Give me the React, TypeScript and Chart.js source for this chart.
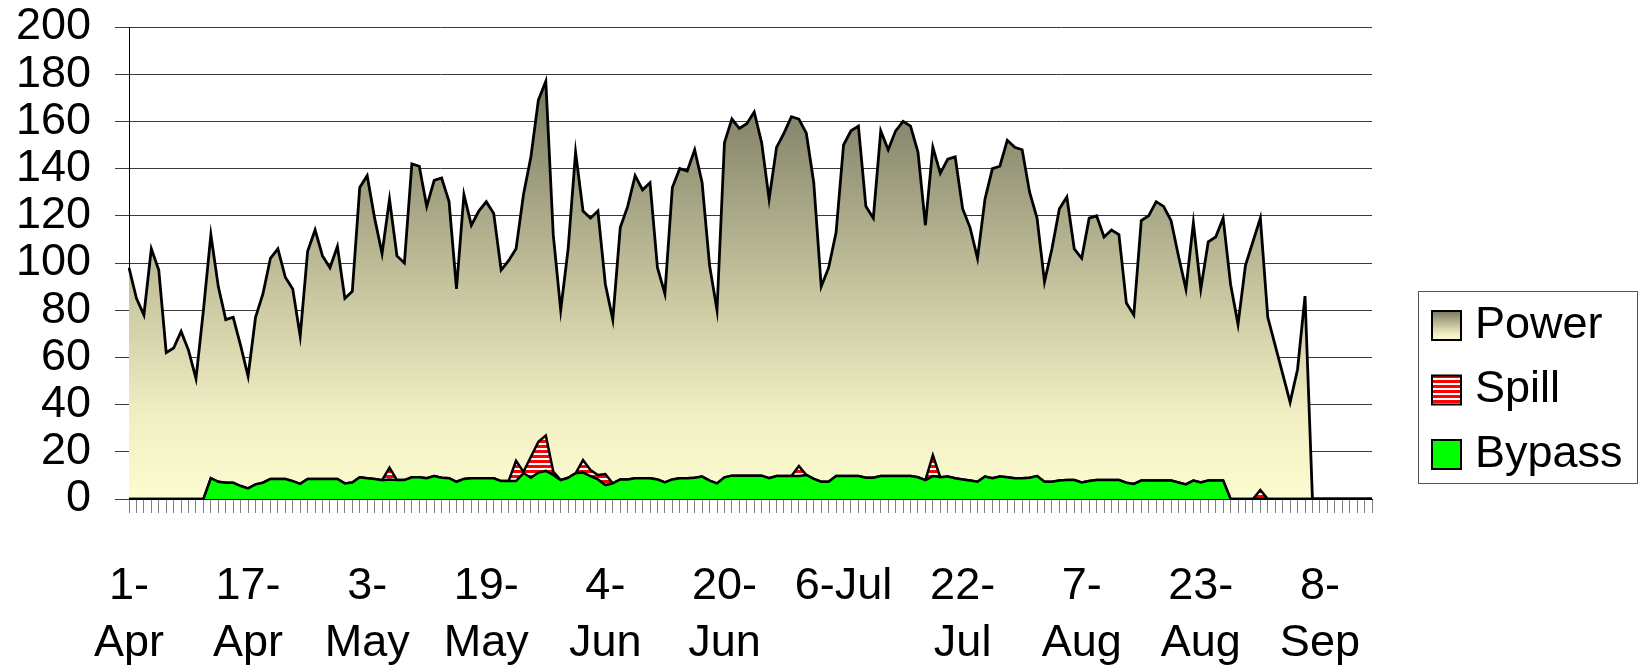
import React, { useEffect, useRef } from "react";
import { Chart, registerables } from "chart.js";

Chart.register(...registerables);

// Daily categories, 1-Apr .. 15-Sep
const categories: string[] = [
  "1-Apr","2-Apr","3-Apr","4-Apr","5-Apr","6-Apr","7-Apr","8-Apr","9-Apr","10-Apr",
  "11-Apr","12-Apr","13-Apr","14-Apr","15-Apr","16-Apr","17-Apr","18-Apr","19-Apr","20-Apr",
  "21-Apr","22-Apr","23-Apr","24-Apr","25-Apr","26-Apr","27-Apr","28-Apr","29-Apr","30-Apr",
  "1-May","2-May","3-May","4-May","5-May","6-May","7-May","8-May","9-May","10-May",
  "11-May","12-May","13-May","14-May","15-May","16-May","17-May","18-May","19-May","20-May",
  "21-May","22-May","23-May","24-May","25-May","26-May","27-May","28-May","29-May","30-May","31-May",
  "1-Jun","2-Jun","3-Jun","4-Jun","5-Jun","6-Jun","7-Jun","8-Jun","9-Jun","10-Jun",
  "11-Jun","12-Jun","13-Jun","14-Jun","15-Jun","16-Jun","17-Jun","18-Jun","19-Jun","20-Jun",
  "21-Jun","22-Jun","23-Jun","24-Jun","25-Jun","26-Jun","27-Jun","28-Jun","29-Jun","30-Jun",
  "1-Jul","2-Jul","3-Jul","4-Jul","5-Jul","6-Jul","7-Jul","8-Jul","9-Jul","10-Jul",
  "11-Jul","12-Jul","13-Jul","14-Jul","15-Jul","16-Jul","17-Jul","18-Jul","19-Jul","20-Jul",
  "21-Jul","22-Jul","23-Jul","24-Jul","25-Jul","26-Jul","27-Jul","28-Jul","29-Jul","30-Jul","31-Jul",
  "1-Aug","2-Aug","3-Aug","4-Aug","5-Aug","6-Aug","7-Aug","8-Aug","9-Aug","10-Aug",
  "11-Aug","12-Aug","13-Aug","14-Aug","15-Aug","16-Aug","17-Aug","18-Aug","19-Aug","20-Aug",
  "21-Aug","22-Aug","23-Aug","24-Aug","25-Aug","26-Aug","27-Aug","28-Aug","29-Aug","30-Aug","31-Aug",
  "1-Sep","2-Sep","3-Sep","4-Sep","5-Sep","6-Sep","7-Sep","8-Sep","9-Sep","10-Sep",
  "11-Sep","12-Sep","13-Sep","14-Sep","15-Sep",
];

// Labels shown every 16th day
const tickLabels: (string | string[])[] = [
  ["1-", "Apr"], ["17-", "Apr"], ["3-", "May"], ["19-", "May"], ["4-", "Jun"],
  ["20-", "Jun"], "6-Jul", ["22-", "Jul"], ["7-", "Aug"], ["23-", "Aug"], ["8-", "Sep"],
];
const labelEvery = 16;

const power: number[] = [
  98, 85, 78, 106, 97, 62, 64, 71, 63, 51,
  80, 112, 90, 76, 77, 65, 52, 77, 87, 102,
  106, 94, 89, 69, 105, 114, 103, 98, 107, 85,
  88, 132, 137, 119, 104, 127, 103, 100, 142, 141,
  124, 135, 136, 126, 89, 129, 116, 122, 126, 121,
  97, 101, 106, 129, 145, 169, 177, 112, 80, 106,
  147, 122, 119, 122, 91, 76, 115, 124, 137, 131,
  134, 98, 87, 132, 140, 139, 148, 134, 99, 80,
  151, 161, 157, 159, 164, 151, 127, 149, 155, 162,
  161, 155, 134, 90, 98, 113, 150, 156, 158, 124,
  119, 156, 148, 156, 160, 158, 147, 116, 149, 138,
  144, 145, 123, 115, 102, 127, 140, 141, 152, 149,
  148, 130, 119, 92, 106, 123, 128, 106, 102, 119,
  120, 111, 114, 112, 83, 78, 118, 120, 126, 124,
  118, 103, 89, 117, 89, 109, 111, 119, 91, 74,
  99, 109, 119, 77, 65, 53, 41, 55, 86, 0,
  0, 0, 0, 0, 0, 0, 0, 0,
];

const bypass: number[] = [
  0, 0, 0, 0, 0, 0, 0, 0, 0, 0,
  0, 8.8, 7.3, 6.9, 6.9, 5.5, 4.5, 6.2, 6.9, 8.5,
  8.5, 8.5, 7.6, 6.4, 8.5, 8.5, 8.5, 8.5, 8.5, 6.6,
  7, 9.2, 8.8, 8.5, 8, 8.3, 8, 8, 9.2, 9.2,
  8.8, 9.7, 9, 8.8, 7.3, 8.5, 8.8, 8.8, 8.8, 8.8,
  7.6, 7.6, 7.6, 11, 9, 11.2, 11.9, 10.2, 8, 9,
  10.9, 11.2, 9.7, 8.3, 5.9, 6.6, 8.3, 8.3, 8.8, 8.8,
  8.8, 8.3, 7, 8.3, 8.8, 8.8, 9, 9.5, 7.8, 6.6,
  9.2, 9.9, 9.9, 9.9, 9.9, 9.9, 8.8, 9.7, 9.7, 9.7,
  9.7, 10.2, 8.5, 7.3, 7.3, 9.7, 9.7, 9.7, 9.7, 9,
  9, 9.7, 9.7, 9.7, 9.7, 9.7, 9.2, 8, 9.7, 9.2,
  9.5, 8.8, 8.3, 7.8, 7.3, 9.5, 8.8, 9.5, 9.2, 8.8,
  8.8, 9, 9.7, 7.3, 7.3, 7.8, 8, 8, 7, 7.6,
  8, 8, 8, 8, 6.9, 6.4, 7.8, 7.8, 7.8, 7.8,
  7.8, 7, 6.2, 7.8, 7, 7.8, 7.8, 7.8, 0, 0,
  0, 0, 0, 0, 0, 0, 0, 0, 0, 0,
  0, 0, 0, 0, 0, 0, 0, 0,
];

// Spill amount, stacked above bypass
const spill: number[] = [
  0, 0, 0, 0, 0, 0, 0, 0, 0, 0,
  0, 0, 0, 0, 0, 0, 0, 0, 0, 0,
  0, 0, 0, 0, 0, 0, 0, 0, 0, 0,
  0, 0, 0, 0, 0, 5, 0, 0, 0, 0,
  0, 0, 0, 0, 0, 0, 0, 0, 0, 0,
  0, 0, 8.6, 0.5, 8.9, 13, 15, 1.4, 0, 0,
  0, 5.3, 2.6, 1.9, 4.7, 0, 0, 0, 0, 0,
  0, 0, 0, 0, 0, 0, 0, 0, 0, 0,
  0, 0, 0, 0, 0, 0, 0, 0, 0, 0,
  4.3, 0, 0, 0, 0, 0, 0, 0, 0, 0,
  0, 0, 0, 0, 0, 0, 0, 0, 8.9, 0,
  0, 0, 0, 0, 0, 0, 0, 0, 0, 0,
  0, 0, 0, 0, 0, 0, 0, 0, 0, 0,
  0, 0, 0, 0, 0, 0, 0, 0, 0, 0,
  0, 0, 0, 0, 0, 0, 0, 0, 0, 0,
  0, 0, 3.8, 0, 0, 0, 0, 0, 0, 0,
  0, 0, 0, 0, 0, 0, 0, 0,
];

const seriesNames = ["Power", "Spill", "Bypass"];
const yMin = 0;
const yMax = 200;
const yStep = 20;

const FONT = "'Liberation Sans', Arial, sans-serif";

function makeStripePattern(): CanvasPattern | string {
  const c = document.createElement("canvas");
  c.width = 4;
  c.height = 5;
  const g = c.getContext("2d");
  if (!g) return "#ff0000";
  g.fillStyle = "#ffffff";
  g.fillRect(0, 0, 4, 5);
  g.fillStyle = "#ff0000";
  g.fillRect(0, 0, 4, 3);
  return g.createPattern(c, "repeat") || "#ff0000";
}

function powerGradient(ctx: CanvasRenderingContext2D, top: number, bottom: number) {
  const g = ctx.createLinearGradient(0, top, 0, bottom);
  g.addColorStop(0, "#787860");
  g.addColorStop(0.5, "#c7c59f");
  g.addColorStop(0.8, "#f1eec4");
  g.addColorStop(1, "#fdfbd0");
  return g;
}

const legendPlugin = {
  id: "boxLegend",
  afterDraw(chart: any) {
    const ctx: CanvasRenderingContext2D = chart.ctx;
    ctx.save();
    const bx = 1418, by = 291, bw = 220, bh = 193;
    ctx.fillStyle = "#ffffff";
    ctx.fillRect(bx, by, bw, bh);
    ctx.strokeStyle = "#555555";
    ctx.lineWidth = 1;
    ctx.strokeRect(bx + 0.5, by + 0.5, bw - 1, bh - 1);
    const centers = [325.5, 390, 454.5];
    const sw = 29;
    const sx = 1432;
    const fills: any[] = [null, makeStripePattern(), "#00ff00"];
    seriesNames.forEach((name, i) => {
      const cy = centers[i];
      const sy = cy - sw / 2;
      if (i === 0) ctx.fillStyle = powerGradient(ctx, sy, sy + sw) as any;
      else ctx.fillStyle = fills[i];
      ctx.fillRect(sx, sy, sw, sw);
      ctx.strokeStyle = "#000000";
      ctx.lineWidth = 2;
      ctx.strokeRect(sx, sy, sw, sw);
      ctx.fillStyle = "#000000";
      ctx.font = `45px ${FONT}`;
      ctx.textBaseline = "middle";
      ctx.textAlign = "left";
      ctx.fillText(name, 1475, cy);
    });
    ctx.restore();
  },
};

export default function App() {
  const canvasRef = useRef<HTMLCanvasElement | null>(null);

  useEffect(() => {
    const canvas = canvasRef.current;
    if (!canvas) return;
    const stripes = makeStripePattern();
    const maxPower = Math.max(...power);

    const chart = new Chart(canvas, {
      type: "line",
      data: {
        labels: categories,
        datasets: [
          {
            label: "Bypass",
            data: bypass,
            stack: "flow",
            fill: "origin",
            backgroundColor: "#00ff00",
            borderColor: "#000000",
            borderWidth: 2.5,
            pointRadius: 0,
            tension: 0,
          },
          {
            label: "Spill",
            data: spill,
            stack: "flow",
            fill: "-1",
            backgroundColor: stripes as any,
            borderColor: "#000000",
            borderWidth: 2.5,
            pointRadius: 0,
            tension: 0,
          },
          {
            label: "Power",
            data: power,
            stack: "power",
            fill: "origin",
            backgroundColor: (c: any) => {
              const ch = c.chart;
              if (!ch.chartArea) return "#dedbb3";
              const ys = ch.scales.y;
              return powerGradient(ch.ctx, ys.getPixelForValue(maxPower), ys.getPixelForValue(0));
            },
            borderColor: "#000000",
            borderWidth: 2.8,
            pointRadius: 0,
            tension: 0,
          },
        ],
      },
      options: {
        responsive: false,
        animation: false,
        devicePixelRatio: 1,
        layout: { padding: { top: 27, right: 267, left: 0, bottom: 0 } },
        plugins: {
          legend: { display: false },
          tooltip: { enabled: false },
        },
        scales: {
          x: {
            type: "category",
            offset: false,
            grid: {
              display: true,
              drawOnChartArea: false,
              drawTicks: true,
              tickLength: 14,
              color: "#808080",
              lineWidth: 1,
            },
            border: { display: true, color: "#000000", width: 1 },
            ticks: {
              autoSkip: false,
              maxRotation: 0,
              minRotation: 0,
              padding: 45,
              color: "#000000",
              font: { family: FONT, size: 45, lineHeight: 1.267 },
              callback: (_v: any, index: number) =>
                index % labelEvery === 0 ? tickLabels[index / labelEvery] ?? "" : "",
            },
            afterFit: (scale: any) => {
              scale.height = 171;
            },
          },
          y: {
            stacked: true,
            min: yMin,
            max: yMax,
            grid: {
              display: true,
              drawOnChartArea: true,
              drawTicks: true,
              tickLength: 14,
              color: "#3a3a3a",
              lineWidth: 1,
            },
            border: { display: true, color: "#000000", width: 1 },
            ticks: {
              stepSize: yStep,
              autoSkip: false,
              padding: 24,
              color: "#000000",
              font: { family: FONT, size: 45, lineHeight: 0.1 },
            },
            afterFit: (scale: any) => {
              scale.width = 129;
            },
          },
        },
      },
      plugins: [legendPlugin],
    });

    return () => {
      chart.destroy();
    };
  }, []);

  return (
    <div style={{ position: "fixed", left: 0, top: 0, width: 1639, height: 670, background: "#ffffff" }}>
      <canvas ref={canvasRef} width={1639} height={670} style={{ display: "block", width: 1639, height: 670 }} />
    </div>
  );
}
